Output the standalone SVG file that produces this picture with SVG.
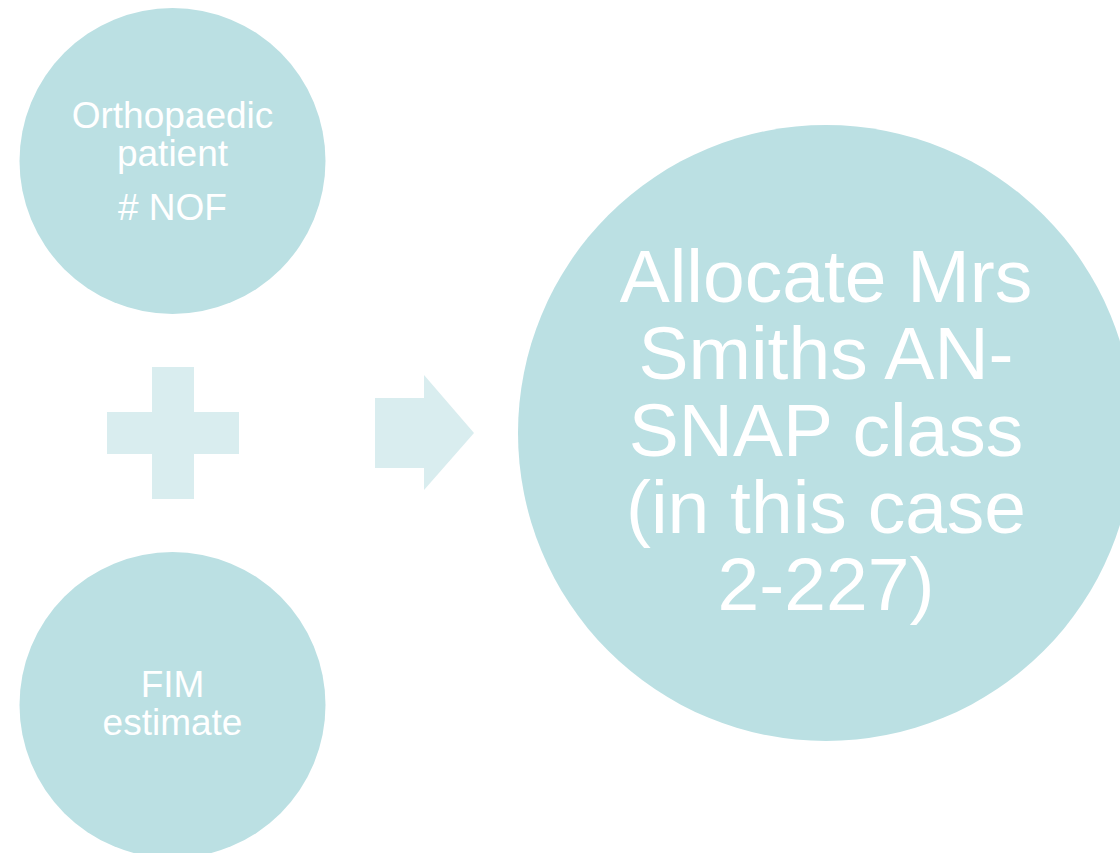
<svg xmlns="http://www.w3.org/2000/svg" width="1120" height="853" viewBox="0 0 1120 853">
<style>
.c{fill:#BBE0E3}
.s{fill:#D9EDEF}
.t{fill:#FFFFFF;font-family:"Liberation Sans",Arial,sans-serif;text-anchor:middle}
.sm{font-size:37px}
.lg{font-size:75px}
</style>
<rect width="1120" height="853" fill="#FFFFFF"/>
<g id="node-orthopaedic">
<circle class="c" cx="172.5" cy="161" r="153"/>
<text class="t sm" x="172.5" y="128">Orthopaedic</text>
<text class="t sm" x="172.5" y="166">patient</text>
<text class="t sm" x="172.5" y="220"># NOF</text>
</g>
<g id="node-plus">
<path class="s" d="M152 367H194V412H239V454H194V499H152V454H107V412H152Z"/>
</g>
<g id="node-fim">
<circle class="c" cx="172.5" cy="705" r="153"/>
<text class="t sm" x="172.5" y="697">FIM</text>
<text class="t sm" x="172.5" y="735">estimate</text>
</g>
<g id="connectors">
<path class="s" d="M375 398H424V375L474 433L424 490V468H375Z"/>
</g>
<g id="node-allocate">
<circle class="c" cx="826" cy="433" r="308"/>
<text class="t lg" x="826" y="302">Allocate Mrs</text>
<text class="t lg" x="826" y="379">Smiths AN-</text>
<text class="t lg" x="826" y="456">SNAP class</text>
<text class="t lg" x="826" y="533">(in this case</text>
<text class="t lg" x="826" y="610">2-227)</text>
</g>
</svg>
